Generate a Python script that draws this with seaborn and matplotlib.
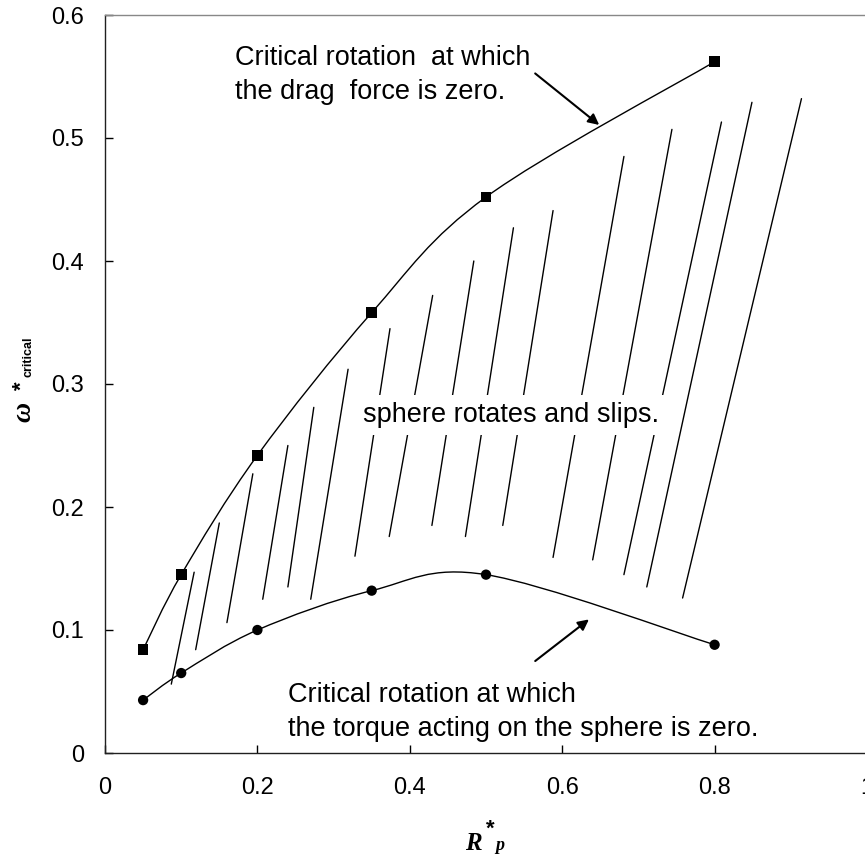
import matplotlib
matplotlib.use('Agg')
import matplotlib.pyplot as plt
from matplotlib.path import Path
from matplotlib.patches import PathPatch
import seaborn as sns
import pandas as pd


# R*_p values where both critical curves were computed
r_p = [0.05, 0.1, 0.2, 0.35, 0.5, 0.8]
# critical rotation at which the drag force is zero (squares)
omega_drag = [0.084, 0.145, 0.242, 0.358, 0.452, 0.562]
# critical rotation at which the torque is zero (circles)
omega_torque = [0.043, 0.065, 0.100, 0.132, 0.145, 0.088]

# hatching of the "rotates and slips" region, segment (x0, y0) -> (x1, y1)
hatch_x0 = [0.087, 0.119, 0.160, 0.207, 0.240, 0.270, 0.328, 0.373,
            0.429, 0.473, 0.522, 0.588, 0.640, 0.681, 0.711, 0.758]
hatch_y0 = [0.056, 0.084, 0.106, 0.125, 0.135, 0.125, 0.160, 0.176,
            0.185, 0.176, 0.185, 0.159, 0.157, 0.145, 0.135, 0.126]
hatch_x1 = [0.117, 0.150, 0.194, 0.240, 0.274, 0.319, 0.374, 0.430,
            0.484, 0.536, 0.588, 0.681, 0.744, 0.809, 0.849, 0.914]
hatch_y1 = [0.147, 0.187, 0.227, 0.250, 0.281, 0.312, 0.345, 0.372,
            0.400, 0.427, 0.441, 0.485, 0.507, 0.513, 0.529, 0.532]

x_ticks = [0, 0.2, 0.4, 0.6, 0.8, 1]
x_tick_labels = ['0', '0.2', '0.4', '0.6', '0.8', '1']
y_ticks = [0, 0.1, 0.2, 0.3, 0.4, 0.5, 0.6]
y_tick_labels = ['0', '0.1', '0.2', '0.3', '0.4', '0.5', '0.6']

drag_note = 'Critical rotation  at which\nthe drag  force is zero.'
torque_note = 'Critical rotation at which\nthe torque acting on the sphere is zero.'
region_note = 'sphere rotates and slips.'

W, H = 865, 856


def _smooth_path(xs, ys):
    # Excel-like smoothed line: cubic bezier through the points
    pts = list(zip(xs, ys))
    n = len(pts)
    verts = [pts[0]]
    codes = [Path.MOVETO]
    for i in range(n - 1):
        p0 = pts[max(i - 1, 0)]
        p1 = pts[i]
        p2 = pts[i + 1]
        p3 = pts[min(i + 2, n - 1)]
        c1 = (p1[0] + (p2[0] - p0[0]) / 6, p1[1] + (p2[1] - p0[1]) / 6)
        c2 = (p2[0] - (p3[0] - p1[0]) / 6, p2[1] - (p3[1] - p1[1]) / 6)
        verts += [c1, c2, p2]
        codes += [Path.CURVE4] * 3
    return Path(verts, codes)


def _fig_text(fig, px, py, s, **kw):
    # place text by pixel position measured from the top-left corner
    fig.text(px / W, 1 - py / H, s, **kw)


sns.set_style('ticks')
plt.rcParams['font.family'] = ['Liberation Sans', 'DejaVu Sans']
for key in ['text.color', 'axes.labelcolor', 'xtick.color', 'ytick.color']:
    plt.rcParams[key] = 'black'

df = pd.DataFrame({'r_p': r_p, 'drag': omega_drag, 'torque': omega_torque})

fig = plt.figure(figsize=(W / 100, H / 100), dpi=100)
ax = fig.add_axes([105 / W, 103 / H, 762 / W, 738 / H])

# hatch lines first so the curves sit on top
for x0, y0, x1, y1 in zip(hatch_x0, hatch_y0, hatch_x1, hatch_y1):
    ax.plot([x0, x1], [y0, y1], color='black', lw=1.0, zorder=1)

ax.add_patch(PathPatch(_smooth_path(r_p, omega_drag), facecolor='none',
                       edgecolor='black', lw=1.0, zorder=2))
ax.add_patch(PathPatch(_smooth_path(r_p, omega_torque), facecolor='none',
                       edgecolor='black', lw=1.0, zorder=2))

sns.scatterplot(data=df, x='r_p', y='drag', marker='s', s=60, color='black',
                edgecolor='none', ax=ax, zorder=3)
sns.scatterplot(data=df, x='r_p', y='torque', marker='o', s=55, color='black',
                edgecolor='none', ax=ax, zorder=3)

ax.text(0.339, 0.2693, region_note, fontsize=19.5, va='baseline', zorder=4,
        bbox=dict(boxstyle='square,pad=0.25', facecolor='white', edgecolor='none'))
# va='baseline' on multi-line text anchors the last line
ax.text(0.1705, 0.5317, drag_note, fontsize=19.5, va='baseline', linespacing=1.38)
ax.text(0.2404, 0.0138, torque_note, fontsize=19.5, va='baseline', linespacing=1.38)

ax.annotate('', xy=(0.6514, 0.5092), xytext=(0.5617, 0.5539),
            arrowprops=dict(arrowstyle='-|>', color='black', lw=1.5, mutation_scale=16))
ax.annotate('', xy=(0.638, 0.110), xytext=(0.5617, 0.0734),
            arrowprops=dict(arrowstyle='-|>', color='black', lw=1.5, mutation_scale=16))

ax.set_xlim(0, 1)
ax.set_ylim(0, 0.6)
ax.set_xticks(x_ticks, x_tick_labels)
ax.set_yticks(y_ticks, y_tick_labels)
ax.tick_params(direction='in', length=6, width=1, labelsize=17)
ax.tick_params(axis='x', pad=17)
ax.tick_params(axis='y', pad=15)
ax.set_xlabel('')
ax.set_ylabel('')

for side in ['left', 'bottom', 'right']:
    ax.spines[side].set_color('#202020')
    ax.spines[side].set_linewidth(1.0)
ax.spines['top'].set_color('#888888')
ax.spines['top'].set_linewidth(1.0)

# axis titles built from pieces: big italic symbol, raised star, small index
serif_bi = dict(family=['Liberation Serif', 'DejaVu Serif'], fontweight='bold',
                fontstyle='italic')
rot = dict(rotation=90, rotation_mode='anchor', ha='center', va='baseline')
_fig_text(fig, 30.7, 412, 'ω', fontsize=20, **serif_bi, **rot)
_fig_text(fig, 27.7, 386, '*', fontsize=16, fontweight='bold', **rot)
_fig_text(fig, 32, 357, 'critical', fontsize=9, fontweight='bold', **rot)

_fig_text(fig, 465, 850, 'R', fontsize=18, ha='left', va='baseline', **serif_bi)
_fig_text(fig, 490.5, 835, '*', fontsize=16, fontweight='bold', ha='center', va='baseline')
_fig_text(fig, 495, 850, 'p', fontsize=13, ha='left', va='baseline', **serif_bi)

fig.savefig('out.png', dpi=100)
plt.close(fig)
